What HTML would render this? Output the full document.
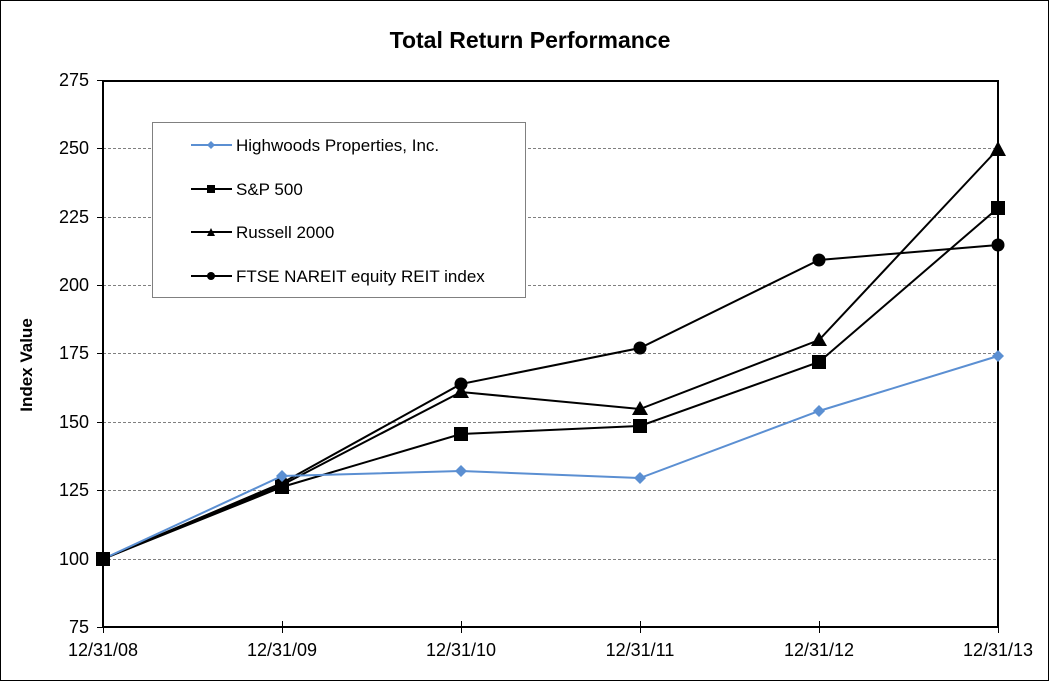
<!DOCTYPE html>
<html><head><meta charset="utf-8"><style>
body{margin:0;background:#fff}
svg{display:block;font-family:"Liberation Sans",Arial,sans-serif}
</style></head><body>
<svg width="1049" height="681" viewBox="0 0 1049 681" xmlns="http://www.w3.org/2000/svg">
<rect x="0.5" y="0.5" width="1048" height="680" fill="#fff" stroke="#000"/>
<text x="530" y="48" font-size="23" font-weight="bold" text-anchor="middle">Total Return Performance</text>
<g stroke="#808080" stroke-width="1" stroke-dasharray="3,2">
<line x1="103" y1="148.5" x2="998" y2="148.5"/>
<line x1="103" y1="217.5" x2="998" y2="217.5"/>
<line x1="103" y1="285.5" x2="998" y2="285.5"/>
<line x1="103" y1="353.5" x2="998" y2="353.5"/>
<line x1="103" y1="422.5" x2="998" y2="422.5"/>
<line x1="103" y1="490.5" x2="998" y2="490.5"/>
<line x1="103" y1="559.5" x2="998" y2="559.5"/>
</g>
<rect x="103" y="81" width="895" height="546" fill="none" stroke="#000" stroke-width="2"/>
<g stroke="#000" stroke-width="1">
<line x1="97" y1="80.5" x2="103" y2="80.5"/><line x1="97" y1="148.5" x2="103" y2="148.5"/>
<line x1="97" y1="217.5" x2="103" y2="217.5"/><line x1="97" y1="285.5" x2="103" y2="285.5"/>
<line x1="97" y1="353.5" x2="103" y2="353.5"/><line x1="97" y1="422.5" x2="103" y2="422.5"/>
<line x1="97" y1="490.5" x2="103" y2="490.5"/><line x1="97" y1="559.5" x2="103" y2="559.5"/>
<line x1="97" y1="627.5" x2="103" y2="627.5"/>
<line x1="282.5" y1="621" x2="282.5" y2="633"/><line x1="461.5" y1="621" x2="461.5" y2="633"/>
<line x1="640.5" y1="621" x2="640.5" y2="633"/><line x1="819.5" y1="621" x2="819.5" y2="633"/>
<line x1="998.5" y1="621" x2="998.5" y2="633"/><line x1="103.5" y1="627" x2="103.5" y2="633"/>
</g>
<g font-size="18" text-anchor="end">
<text x="89" y="86">275</text><text x="89" y="154">250</text><text x="89" y="223">225</text>
<text x="89" y="291">200</text><text x="89" y="359">175</text><text x="89" y="428">150</text>
<text x="89" y="496">125</text><text x="89" y="565">100</text><text x="89" y="633">75</text>
</g>
<g font-size="18" text-anchor="middle">
<text x="103" y="656">12/31/08</text><text x="282" y="656">12/31/09</text><text x="461" y="656">12/31/10</text>
<text x="640" y="656">12/31/11</text><text x="819" y="656">12/31/12</text><text x="998" y="656">12/31/13</text>
</g>
<text transform="translate(32,365) rotate(-90)" font-size="17" font-weight="bold" text-anchor="middle">Index Value</text>

<!-- FTSE -->
<polyline fill="none" stroke="#000" stroke-width="2" points="103,559 282,483 461,384 640,348 819,260 998,245"/>
<g fill="#000"><circle cx="282" cy="483" r="6.5"/><circle cx="461" cy="384" r="6.5"/><circle cx="640" cy="348" r="6.5"/><circle cx="819" cy="260" r="6.5"/><circle cx="998" cy="245" r="6.5"/></g>
<!-- Russell -->
<polyline fill="none" stroke="#000" stroke-width="2" points="103,559 282,485 461,392 640,409 819,340 998,149"/>
<g fill="#000">
<polygon points="282,477 290,491 274,491"/><polygon points="461,384 469,398 453,398"/><polygon points="640,401 648,415 632,415"/><polygon points="819,332 827,346 811,346"/><polygon points="998,141 1006,156 990,156"/>
</g>
<!-- S&P -->
<polyline fill="none" stroke="#000" stroke-width="2" points="103,559 282,487 461,434 640,426 819,362 998,208"/>
<g fill="#000">
<rect x="275" y="480" width="14" height="14"/><rect x="454" y="427" width="14" height="14"/><rect x="633" y="419" width="14" height="14"/><rect x="812" y="355" width="14" height="14"/><rect x="991" y="201" width="14" height="14"/>
</g>
<!-- Highwoods -->
<polyline fill="none" stroke="#5b8fd2" stroke-width="2" points="103,559 282,476 461,471 640,478 819,411 998,356"/>
<g fill="#5b8fd2">
<polygon points="282,470 288,476 282,482 276,476"/><polygon points="461,465 467,471 461,477 455,471"/><polygon points="640,472 646,478 640,484 634,478"/><polygon points="819,405 825,411 819,417 813,411"/><polygon points="998,350 1004,356 998,362 992,356"/>
</g>
<rect x="96" y="552" width="14" height="14" fill="#000"/>

<!-- Legend -->
<rect x="152.5" y="122.5" width="373" height="175" fill="#fff" stroke="#808080"/>
<g stroke-width="2">
<line x1="191" y1="145" x2="232" y2="145" stroke="#5b8fd2"/>
<line x1="191" y1="189" x2="232" y2="189" stroke="#000"/>
<line x1="191" y1="232" x2="232" y2="232" stroke="#000"/>
<line x1="191" y1="276" x2="232" y2="276" stroke="#000"/>
</g>
<polygon points="211,141 215,145 211,149 207,145" fill="#5b8fd2"/>
<rect x="207" y="185" width="8" height="8" fill="#000"/>
<polygon points="211,228 215,236 207,236" fill="#000"/>
<circle cx="211" cy="276" r="4" fill="#000"/>
<g font-size="17">
<text x="236" y="151">Highwoods Properties, Inc.</text>
<text x="236" y="195">S&amp;P 500</text>
<text x="236" y="238">Russell 2000</text>
<text x="236" y="282">FTSE NAREIT equity REIT index</text>
</g>
</svg>
</body></html>
